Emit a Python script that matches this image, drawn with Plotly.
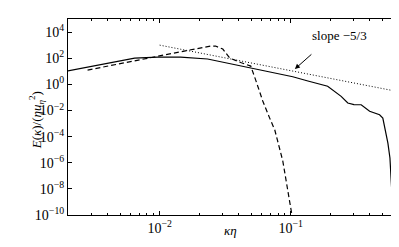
import numpy as np
import plotly.graph_objects as go

# Solid spectrum
solid_k = [0.00199, 0.00355, 0.00644, 0.00966, 0.01445, 0.0232, 0.0361, 0.0495, 0.0730,
           0.1035, 0.135, 0.191, 0.242, 0.272, 0.303, 0.344, 0.399, 0.436, 0.475, 0.503,
           0.522, 0.550, 0.570, 0.585, 0.590, 0.593]
solid_E = [10.5, 32, 102, 123, 123, 87, 35.5, 18, 8.0,
           3.8, 1.8, 0.71, 0.12, 0.037, 0.028, 0.0275, 0.0086, 0.0064, 0.0047, 0.0026,
           4.6e-4, 3.2e-5, 2.3e-6, 6.8e-8, 4.8e-9, 1e-11]

# Dashed spectrum
dashed_k = [0.00282, 0.00741, 0.00965, 0.01637, 0.0245, 0.0267, 0.0303, 0.0342, 0.0420,
            0.0495, 0.054, 0.0611, 0.069, 0.0755, 0.0869, 0.0948, 0.1035, 0.1060]
dashed_E = [12.3, 87, 146, 398, 850, 850, 500, 103, 45,
            25, 2.1, 0.053, 0.0026, 3.2e-4, 1.35e-6, 1.2e-8, 1e-10, 1e-11]

# Reference slope line
ref_k = [0.01, 0.622]
ref_E = [1000, 0.31]

# Tick labels
x_tick_vals = [0.01, 0.1]
x_tick_text = ["10<sup>−2</sup>", "10<sup>−1</sup>"]
y_tick_vals = [1e-10, 1e-8, 1e-6, 1e-4, 1e-2, 1, 1e2, 1e4]
y_tick_text = ["10<sup>−10</sup>", "10<sup>−8</sup>", "10<sup>−6</sup>", "10<sup>−4</sup>",
               "10<sup>−2</sup>", "10<sup>0</sup>", "10<sup>2</sup>", "10<sup>4</sup>"]

FONT = "Liberation Serif, DejaVu Serif, serif"

fig = go.Figure()
fig.add_trace(go.Scatter(x=solid_k, y=solid_E, mode="lines",
                         line=dict(color="black", width=1.2), showlegend=False))
fig.add_trace(go.Scatter(x=dashed_k, y=dashed_E, mode="lines",
                         line=dict(color="black", width=1.2, dash="5px,3px"), showlegend=False))
fig.add_trace(go.Scatter(x=ref_k, y=ref_E, mode="lines",
                         line=dict(color="black", width=1, dash="1px,2px"), showlegend=False))

axis_common = dict(type="log", showline=True, linecolor="black", linewidth=1,
                   mirror="allticks", ticks="inside", tickcolor="black", ticklen=4,
                   showgrid=False, zeroline=False,
                   tickfont=dict(family=FONT, size=14, color="black"))

fig.update_xaxes(range=[np.log10(0.002), np.log10(0.634)],
                 tickmode="array", tickvals=x_tick_vals, ticktext=x_tick_text,
                 minor=dict(ticks="inside", ticklen=2, tickcolor="black", showgrid=False,
                            dtick="D1"),
                 **axis_common)
fig.update_yaxes(range=[-10, 5],
                 tickmode="array", tickvals=y_tick_vals, ticktext=y_tick_text,
                 **axis_common)

# Axis titles
fig.add_annotation(x=0.494, y=-0.128, xref="paper", yref="paper", text="<i>κη</i>",
                   showarrow=False, font=dict(family=FONT, size=13, color="black"))
fig.add_annotation(x=-0.13, y=0.485, xref="paper", yref="paper", textangle=-90,
                   text="<i>E</i>(<i>κ</i>)/(<i>ηu</i><sub><i>η</i></sub><sup>2</sup>)",
                   showarrow=False, font=dict(family=FONT, size=13, color="black"))

fig.add_annotation(x=-0.969, y=1.17, xref="x", yref="y", text="", showarrow=True,
                   ax=18, ay=-16, arrowhead=2, arrowsize=1, arrowwidth=1, arrowcolor="black")
fig.add_annotation(x=-0.626, y=3.77, xref="x", yref="y", text="slope −5/3", showarrow=False,
                   font=dict(family=FONT, size=13, color="black"))

fig.update_layout(width=399, height=247, margin=dict(l=60, r=11, t=11, b=40),
                  plot_bgcolor="white", paper_bgcolor="white",
                  font=dict(family=FONT, size=12, color="black"))

fig.write_html("out.html")
